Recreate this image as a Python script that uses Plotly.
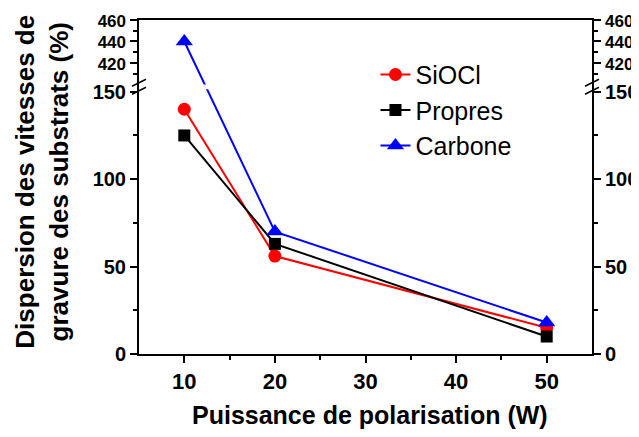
import plotly.graph_objects as go

# data
power = [10, 20, 50]
siocl = [140, 56, 15]
propres = [125, 63, 10]
carbone = [440, 70, 18]

low_ticks = [0, 50, 100, 150]
high_ticks = [420, 440, 460]
low_minor = [25, 75, 125]
high_minor = [410, 430, 450]
x_ticks = [10, 20, 30, 40, 50]
x_minor = [15, 25, 35, 45]

# broken y axis: 0..LOW_TOP linear, then a small gap, then HIGH_BOT..460 compressed
LOW_TOP = 151.5
HIGH_BOT = 400
GAP = 2.7
HIGH_SCALE = 0.614


def brk(v):
    if v <= LOW_TOP:
        return v
    return LOW_TOP + GAP + (v - HIGH_BOT) * HIGH_SCALE


Y_MAX = brk(460)
FONT = "Arial, Liberation Sans, sans-serif"

fig = go.Figure()

series = [
    ("SiOCl", siocl, "#ff0000", "circle", 13),
    ("Propres", propres, "#000000", "square", 12),
    ("Carbone", carbone, "#0000ff", "triangle-up", 15),
]
for name, vals, color, symbol, size in series:
    fig.add_trace(
        go.Scatter(
            x=power,
            y=[brk(v) for v in vals],
            mode="lines+markers",
            name=name,
            line=dict(color=color, width=2),
            marker=dict(color=color, symbol=symbol, size=size),
        )
    )

# empty trace so the right-hand axis exists
fig.add_trace(go.Scatter(x=[None], y=[None], yaxis="y2", showlegend=False, hoverinfo="skip"))

tickvals = [brk(v) for v in low_ticks + high_ticks]
# upper segment labels are a bit smaller in the original
ticktext = [str(v) for v in low_ticks] + [
    f"<span style='font-size:17px'>{v}</span>" for v in high_ticks
]
minorvals = [brk(v) for v in low_minor + high_minor]

yaxis_common = dict(
    range=[0, Y_MAX],
    automargin=False,
    tickmode="array",
    tickvals=tickvals,
    ticktext=ticktext,
    ticks="outside",
    ticklen=7,
    tickwidth=2,
    tickcolor="black",
    showline=True,
    linecolor="black",
    linewidth=2,
    showgrid=False,
    zeroline=False,
    tickfont=dict(family=FONT, size=20, color="black", weight="bold"),
    minor=dict(tickvals=minorvals, ticks="outside", ticklen=4, tickwidth=2, tickcolor="black"),
)

# the page body adds an 8px offset, so the figure is 8px smaller than the window
fig.update_layout(
    width=631,
    height=429,
    margin=dict(l=131, r=47, t=12, b=83, autoexpand=False),
    paper_bgcolor="white",
    plot_bgcolor="white",
    font=dict(family=FONT, color="black"),
    xaxis=dict(
        range=[5, 55],
        automargin=False,
        tickmode="array",
        tickvals=x_ticks,
        ticks="outside",
        ticklen=7,
        tickwidth=2,
        tickcolor="black",
        showline=True,
        mirror=True,
        linecolor="black",
        linewidth=2,
        showgrid=False,
        zeroline=False,
        tickfont=dict(family=FONT, size=22, color="black", weight="bold"),
        minor=dict(tickvals=x_minor, ticks="outside", ticklen=4, tickwidth=2, tickcolor="black"),
    ),
    yaxis=dict(side="left", **yaxis_common),
    yaxis2=dict(side="right", overlaying="y", anchor="x", **yaxis_common),
    legend=dict(
        x=0.522,
        y=0.905,
        xanchor="left",
        yanchor="top",
        bgcolor="rgba(0,0,0,0)",
        font=dict(family=FONT, size=25, color="black"),
    ),
    showlegend=True,
)

# white band hiding the lines inside the axis break
fig.add_shape(
    type="rect",
    xref="paper", xsizemode="pixel", xanchor=0.5, x0=-225, x1=225,
    yref="y", y0=LOW_TOP, y1=LOW_TOP + GAP,
    fillcolor="white", line=dict(width=0), layer="above",
)

# "//" break marks on both y axes
mid = LOW_TOP + GAP / 2
for side in (0, 1):
    for dy in (-4, 4):
        fig.add_shape(
            type="line",
            xref="paper", xsizemode="pixel", xanchor=side, x0=-7, x1=7,
            yref="y", ysizemode="pixel", yanchor=mid, y0=dy - 3.5, y1=dy + 3.5,
            line=dict(color="black", width=1.5), layer="above",
        )

fig.add_annotation(
    text="Dispersion des vitesses de<br>gravure des substrats (%)",
    xref="paper", yref="paper", x=0, y=0.516, xshift=-97,
    textangle=-90, showarrow=False,
    xanchor="center", yanchor="middle",
    font=dict(family=FONT, size=26, color="black", weight="bold"),
)
fig.add_annotation(
    text="Puissance de polarisation (W)",
    xref="paper", yref="paper", x=0.51, y=0, yshift=-61,
    showarrow=False, xanchor="center", yanchor="middle",
    font=dict(family=FONT, size=25, color="black", weight="bold"),
)

fig.write_html("out.html")
